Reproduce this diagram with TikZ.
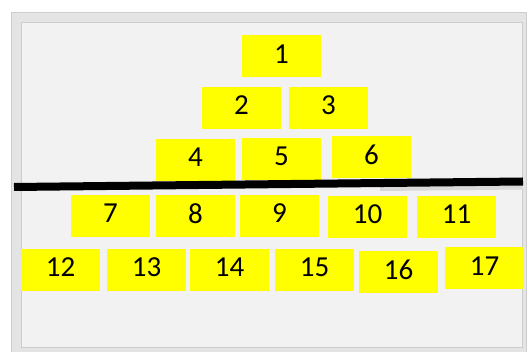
\documentclass[tikz,border=0pt]{standalone}
\usepackage{fontspec}
\setmainfont{Carlito}
\definecolor{noteyellow}{RGB}{255,255,0}
\definecolor{boardgray}{RGB}{242,242,242}
\definecolor{framegray}{RGB}{228,228,228}
\definecolor{edgegray}{RGB}{205,205,205}
\tikzset{note/.style={fill=noteyellow,minimum width=79pt,minimum height=42pt,inner sep=0pt,
  text depth=5pt,font=\fontsize{29}{29}\selectfont}}

\begin{document}
\begin{tikzpicture}[x=1pt,y=-1pt]
        \useasboundingbox (0,0) rectangle (528,352);
        % whiteboard
        \draw[edgegray,fill=framegray] (11,12) rectangle (526,352);
        \draw[edgegray,fill=boardgray] (21,22) rectangle (522,347);
        % notes above the cut
        \node[note] (n1) at (281.5,56.5) {1};
        \node[note] (n2) at (241.5,108) {2};
        \node[note] (n3) at (328.5,108) {3};
        \node[note] (n4) at (195.5,160) {4};
        \node[note] (n5) at (281.5,159) {5};
        \node[note] (n6) at (371.5,157) {6};
        % notes below the cut
        \node[note] (n7) at (110.5,216) {7};
        \node[note] (n8) at (195.5,216) {8};
        \node[note] (n9) at (279.5,216) {9};
        \node[note] (n10) at (367.5,217) {10};
        \node[note] (n11) at (456.5,217) {11};
        \node[note] (n12) at (60.5,270) {12};
        \node[note] (n13) at (146.5,270) {13};
        \node[note] (n14) at (229.5,270) {14};
        \node[note] (n15) at (314.5,270) {15};
        \node[note] (n16) at (398.5,272) {16};
        \node[note] (n17) at (484.5,268.5) {17};
        % the cut line
        \coordinate (cutL) at (14,187);
        \coordinate (cutR) at (523,181.5);
        \coordinate (shadeL) at (380,188.5);
        \coordinate (shadeR) at (523,187);
        \draw[black!15,line width=5pt] (shadeL) -- (shadeR);
        \draw[line width=8pt] (cutL) -- (cutR);
      \end{tikzpicture}
\end{document}
